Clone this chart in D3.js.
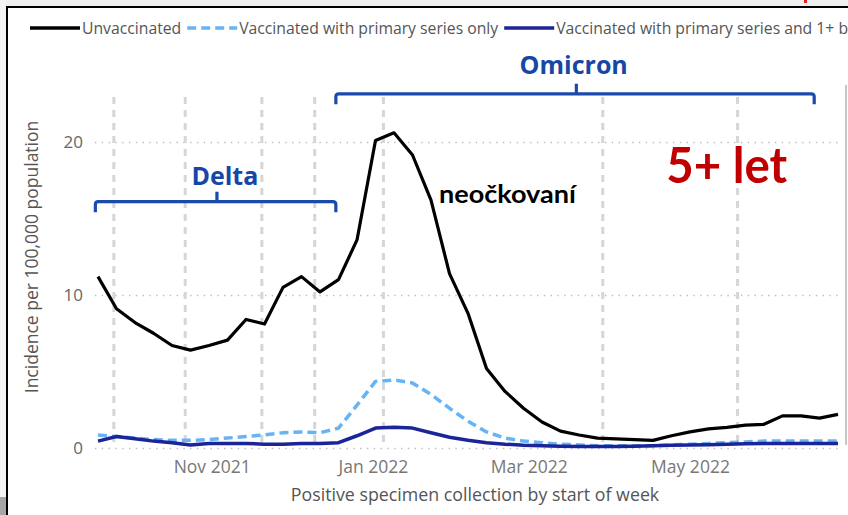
<!DOCTYPE html>
<html>
<head>
<meta charset="utf-8">
<script src="https://cdn.jsdelivr.net/npm/d3@7"></script>
<style>
body { margin: 0; background: #fff; }
svg { display: block; }
</style>
</head>
<body>
<div id="chart"></div>
<script>
// weekly data, start of week
var weeks = ["2021-09-19","2021-09-26","2021-10-03","2021-10-10","2021-10-17","2021-10-24","2021-10-31",
  "2021-11-07","2021-11-14","2021-11-21","2021-11-28","2021-12-05","2021-12-12","2021-12-19","2021-12-26",
  "2022-01-02","2022-01-09","2022-01-16","2022-01-23","2022-01-30","2022-02-06","2022-02-13","2022-02-20",
  "2022-02-27","2022-03-06","2022-03-13","2022-03-20","2022-03-27","2022-04-03","2022-04-10","2022-04-17",
  "2022-04-24","2022-05-01","2022-05-08","2022-05-15","2022-05-22","2022-05-29","2022-06-05","2022-06-12",
  "2022-06-19","2022-06-26"];

var unvaccinated = [11.2, 9.1, 8.2, 7.5, 6.7, 6.4, 6.7, 7.05, 8.4, 8.1, 10.5, 11.2, 10.2, 11.0, 13.6,
  20.1, 20.6, 19.15, 16.2, 11.4, 8.8, 5.2, 3.7, 2.6, 1.7, 1.1, 0.85, 0.65, 0.6, 0.55, 0.5,
  0.8, 1.05, 1.25, 1.35, 1.5, 1.55, 2.1, 2.1, 1.95, 2.2];

var primaryOnly = [0.85, 0.75, 0.65, 0.55, 0.5, 0.5, 0.55, 0.65, 0.75, 0.85, 1.0, 1.05, 1.0, 1.3, 2.8,
  4.35, 4.45, 4.25, 3.5, 2.6, 1.75, 1.05, 0.65, 0.45, 0.35, 0.25, 0.2, 0.15, 0.15, 0.15, 0.15,
  0.2, 0.25, 0.3, 0.35, 0.4, 0.45, 0.45, 0.45, 0.45, 0.45];

var boosted = [0.45, 0.75, 0.6, 0.45, 0.35, 0.2, 0.3, 0.3, 0.3, 0.25, 0.25, 0.3, 0.3, 0.35, 0.8,
  1.3, 1.35, 1.3, 1.0, 0.7, 0.5, 0.35, 0.25, 0.18, 0.15, 0.12, 0.1, 0.1, 0.1, 0.12, 0.15,
  0.18, 0.2, 0.22, 0.25, 0.28, 0.3, 0.3, 0.3, 0.3, 0.3];

var seriesNames = ["Unvaccinated", "Vaccinated with primary series only", "Vaccinated with primary series and 1+ booster dose"];
var yTicks = [0, 10, 20];
var xTickDates = ["2021-11-01", "2022-01-01", "2022-03-01", "2022-05-01"];
var vGridDates = ["2021-09-25", "2021-10-22", "2021-11-20", "2021-12-10", "2022-01-05", "2022-03-29", "2022-05-19"];

// variant brackets: start, middle, end, level (incidence units)
var variants = [
  {name: "Delta", start: "2021-09-18", mid: "2021-11-03", end: "2021-12-18", level: 16.1, label: "2021-11-06", labelY: 17.2},
  {name: "Omicron", start: "2021-12-18", mid: "2022-03-19", end: "2022-06-17", level: 23.15, label: "2022-03-18", labelY: 24.45}
];

var W = 848, H = 515;
var parse = d3.timeParse("%Y-%m-%d");
var dates = weeks.map(parse);

var svg = d3.select("#chart").append("svg")
  .attr("width", W)
  .attr("height", H);

// frame bits
svg.append("rect").attr("x", 0).attr("y", 0).attr("width", W).attr("height", 6).attr("fill", "#f0f0f0");
svg.append("rect").attr("x", 0).attr("y", 0).attr("width", 6).attr("height", H).attr("fill", "#f4f4f4");
svg.append("rect").attr("x", 0).attr("y", 497).attr("width", 6).attr("height", 18).attr("fill", "#a6a6a6");
svg.append("rect").attr("x", 6).attr("y", 6).attr("width", W - 6).attr("height", 2).attr("fill", "#000");
svg.append("rect").attr("x", 6).attr("y", 6).attr("width", 2).attr("height", H - 6).attr("fill", "#000");
svg.append("rect").attr("x", 804).attr("y", 0).attr("width", 3).attr("height", 3).attr("fill", "#e02020");
svg.append("line").attr("x1", 846).attr("x2", 846).attr("y1", 85).attr("y2", 445)
  .attr("stroke", "#b4b4b4").attr("stroke-width", 1.5);

var x = d3.scaleTime()
  .domain([dates[0], dates[dates.length - 1]])
  .range([98, 838]);

var y = d3.scaleLinear()
  .domain([0, 20])
  .range([448, 142]);

var plotLeft = 95, plotRight = 843, plotTop = 97;

// horizontal dotted gridlines
svg.append("g")
  .attr("class", "y__grid")
  .attr("transform", "translate(" + plotLeft + ",0)")
  .call(d3.axisLeft(y).tickValues(yTicks).tickSize(-(plotRight - plotLeft)).tickFormat(""))
  .call(function(g) {
    g.select(".domain").remove();
    g.selectAll("line").attr("stroke", "#b8b8b8").attr("stroke-width", 1.3).attr("stroke-dasharray", "1.3,5.5");
  });

// vertical dashed gridlines
svg.append("g").selectAll("line")
  .data(vGridDates.map(parse))
  .enter().append("line")
  .attr("x1", function(d) { return x(d); })
  .attr("x2", function(d) { return x(d); })
  .attr("y1", plotTop)
  .attr("y2", y(0))
  .attr("stroke", "#d6d6d6")
  .attr("stroke-width", 3)
  .attr("stroke-dasharray", "7,6");

// y axis labels
svg.append("g")
  .attr("transform", "translate(83,0)")
  .call(d3.axisLeft(y).tickValues(yTicks).tickSize(0).tickPadding(0))
  .call(function(g) {
    g.select(".domain").remove();
    g.selectAll("text").attr("font-family", "'Open Sans', sans-serif").attr("font-size", 17)
      .attr("fill", "#666");
  });

// x axis labels
svg.append("g")
  .attr("transform", "translate(0,455)")
  .call(d3.axisBottom(x).tickValues(xTickDates.map(parse)).tickFormat(d3.timeFormat("%b %Y")).tickSize(0).tickPadding(0))
  .call(function(g) {
    g.select(".domain").remove();
    g.selectAll("text").attr("font-family", "'Open Sans', sans-serif").attr("font-size", 17.5)
      .attr("fill", "#777").attr("dy", "1.05em");
  });

svg.append("text")
  .attr("x", 475).attr("y", 501)
  .attr("text-anchor", "middle")
  .attr("font-family", "'Open Sans', sans-serif").attr("font-size", 17.8).attr("fill", "#555")
  .text("Positive specimen collection by start of week");

svg.append("text")
  .attr("transform", "translate(38,257) rotate(-90)")
  .attr("text-anchor", "middle")
  .attr("font-family", "'Open Sans', sans-serif").attr("font-size", 17.5).attr("fill", "#555")
  .text("Incidence per 100,000 population");

// lines
var lineGen = function(vals) {
  return d3.line()
    .x(function(d, i) { return x(dates[i]); })
    .y(function(d) { return y(d); })(vals);
};

svg.append("path").attr("d", lineGen(primaryOnly))
  .attr("fill", "none").attr("stroke", "#66b4f6").attr("stroke-width", 3.5)
  .attr("stroke-dasharray", "9,5").attr("stroke-linejoin", "round");
svg.append("path").attr("d", lineGen(boosted))
  .attr("fill", "none").attr("stroke", "#1b2597").attr("stroke-width", 3.5)
  .attr("stroke-linejoin", "round");
svg.append("path").attr("d", lineGen(unvaccinated))
  .attr("fill", "none").attr("stroke", "#000").attr("stroke-width", 3.2)
  .attr("stroke-linejoin", "round");

// variant brackets
var bracketColor = "#1a4aab";
variants.forEach(function(v) {
  var x0 = x(parse(v.start)), x1 = x(parse(v.end)), xm = x(parse(v.mid)), yl = y(v.level);
  var drop = 10.5, r = 3;
  svg.append("path")
    .attr("d", "M" + x0 + "," + (yl + drop) + " L" + x0 + "," + (yl + r) + " Q" + x0 + "," + yl + " " + (x0 + r) + "," + yl +
      " L" + (x1 - r) + "," + yl + " Q" + x1 + "," + yl + " " + x1 + "," + (yl + r) + " L" + x1 + "," + (yl + drop) +
      " M" + xm + "," + yl + " L" + xm + "," + (yl - 10))
    .attr("fill", "none").attr("stroke", bracketColor).attr("stroke-width", 3.2);
  svg.append("text")
    .attr("x", x(parse(v.label))).attr("y", y(v.labelY))
    .attr("text-anchor", "middle")
    .attr("font-family", "'Open Sans', sans-serif").attr("font-weight", "bold").attr("font-size", 25)
    .attr("fill", "#1547a6")
    .text(v.name);
});

// annotations
svg.append("text")
  .attr("x", x(parse("2022-01-26"))).attr("y", y(16.0))
  .attr("font-family", "Lato, sans-serif").attr("font-weight", "bold").attr("font-size", 25)
  .attr("textLength", 137).attr("lengthAdjust", "spacingAndGlyphs")
  .attr("fill", "#000")
  .text("neočkovaní");

svg.append("text")
  .attr("x", x(parse("2022-04-22"))).attr("y", y(17.3))
  .attr("font-family", "Lato, sans-serif").attr("font-weight", "bold").attr("font-size", 50)
  .attr("textLength", 121).attr("lengthAdjust", "spacingAndGlyphs")
  .attr("fill", "#c00000")
  .text("5+ let");

// legend
var legendStyles = [
  {color: "#000", dash: null},
  {color: "#66b4f6", dash: "9,5"},
  {color: "#1b2597", dash: null}
];
var legend = svg.append("g").attr("class", "legend");
var cursor = 30, ly = 28;
var probe = legend.append("text").attr("font-family", "'Open Sans', sans-serif").attr("font-size", 16)
  .text(seriesNames[1]);
var squeeze = 259 / probe.node().getComputedTextLength();
probe.remove();

seriesNames.forEach(function(name, i) {
  legend.append("line")
    .attr("x1", cursor).attr("x2", cursor + 50).attr("y1", ly).attr("y2", ly)
    .attr("stroke", legendStyles[i].color).attr("stroke-width", 3.5)
    .attr("stroke-dasharray", legendStyles[i].dash);
  var t = legend.append("text")
    .attr("x", cursor + 52).attr("y", ly + 6)
    .attr("font-family", "'Open Sans', sans-serif").attr("font-size", 16).attr("fill", "#555")
    .text(name);
  var w = t.node().getComputedTextLength() * squeeze;
  t.attr("textLength", w).attr("lengthAdjust", "spacingAndGlyphs");
  cursor = cursor + 52 + w + 6;
});
</script>
</body>
</html>
